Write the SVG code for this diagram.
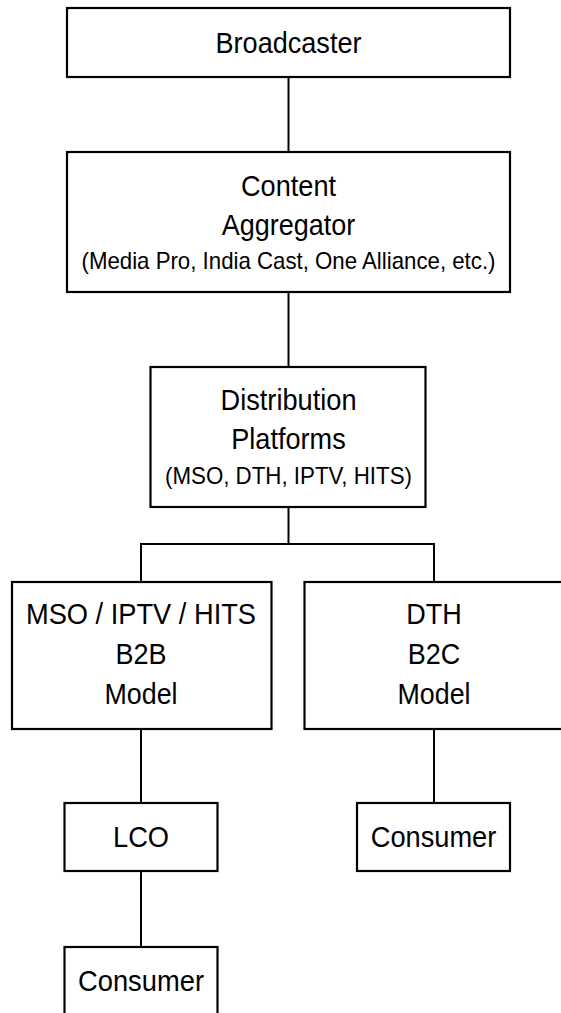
<svg xmlns="http://www.w3.org/2000/svg" width="561" height="1013" viewBox="0 0 561 1013">
<style>
.box{fill:#fff;stroke:#000;stroke-width:2.2}
.t{font-family:"Liberation Sans",Arial,Helvetica,sans-serif;font-size:30px;fill:#000;text-anchor:middle}
.s{font-family:"Liberation Sans",Arial,Helvetica,sans-serif;font-size:24px;fill:#000;text-anchor:middle}
.c{fill:none;stroke:#000;stroke-width:2}
</style>
<rect width="561" height="1013" fill="#fff"/>
<g id="connectors">
<line class="c" x1="288.5" y1="77" x2="288.5" y2="152"/>
<line class="c" x1="288.5" y1="292" x2="288.5" y2="367"/>
<polyline class="c" points="288.5,507 288.5,544"/>
<polyline class="c" points="141,582 141,544 434,544 434,582"/>
<line class="c" x1="141" y1="729" x2="141" y2="803"/>
<line class="c" x1="434" y1="729" x2="434" y2="803"/>
<line class="c" x1="141" y1="871" x2="141" y2="947"/>
</g>
<g id="broadcaster">
<rect class="box" x="67" y="8" width="443" height="69"/>
<text class="t" x="288.5" y="52.5" textLength="146" lengthAdjust="spacingAndGlyphs">Broadcaster</text>
</g>
<g id="content-aggregator">
<rect class="box" x="67" y="152" width="443" height="140"/>
<text class="t" x="288.5" y="195.5" textLength="95" lengthAdjust="spacingAndGlyphs">Content</text>
<text class="t" x="288.5" y="234.5" textLength="133.5" lengthAdjust="spacingAndGlyphs">Aggregator</text>
<text class="s" x="288.5" y="268.5" textLength="414" lengthAdjust="spacingAndGlyphs">(Media Pro, India Cast, One Alliance, etc.)</text>
</g>
<g id="distribution-platforms">
<rect class="box" x="150.5" y="367" width="275" height="140"/>
<text class="t" x="288.5" y="409.5" textLength="136" lengthAdjust="spacingAndGlyphs">Distribution</text>
<text class="t" x="288.5" y="448.5" textLength="114.5" lengthAdjust="spacingAndGlyphs">Platforms</text>
<text class="s" x="288.5" y="483.5" textLength="247" lengthAdjust="spacingAndGlyphs">(MSO, DTH, IPTV, HITS)</text>
</g>
<g id="b2b-model">
<rect class="box" x="12" y="582" width="259.5" height="147"/>
<text class="t" x="141" y="623.5" textLength="230" lengthAdjust="spacingAndGlyphs">MSO / IPTV / HITS</text>
<text class="t" x="141" y="664" textLength="51" lengthAdjust="spacingAndGlyphs">B2B</text>
<text class="t" x="141" y="703.5" textLength="73" lengthAdjust="spacingAndGlyphs">Model</text>
</g>
<g id="b2c-model">
<rect class="box" x="304.5" y="582" width="262" height="147"/>
<text class="t" x="434" y="623.5" textLength="55.5" lengthAdjust="spacingAndGlyphs">DTH</text>
<text class="t" x="434" y="664" textLength="52.5" lengthAdjust="spacingAndGlyphs">B2C</text>
<text class="t" x="434" y="703.5" textLength="73" lengthAdjust="spacingAndGlyphs">Model</text>
</g>
<g id="lco">
<rect class="box" x="64.5" y="803" width="153" height="68"/>
<text class="t" x="141" y="847" textLength="56" lengthAdjust="spacingAndGlyphs">LCO</text>
</g>
<g id="consumer-dth">
<rect class="box" x="357" y="803" width="153" height="68"/>
<text class="t" x="433.5" y="847" textLength="125.5" lengthAdjust="spacingAndGlyphs">Consumer</text>
</g>
<g id="consumer-lco">
<rect class="box" x="64.5" y="947" width="153" height="80"/>
<text class="t" x="141" y="991" textLength="126" lengthAdjust="spacingAndGlyphs">Consumer</text>
</g>
</svg>
